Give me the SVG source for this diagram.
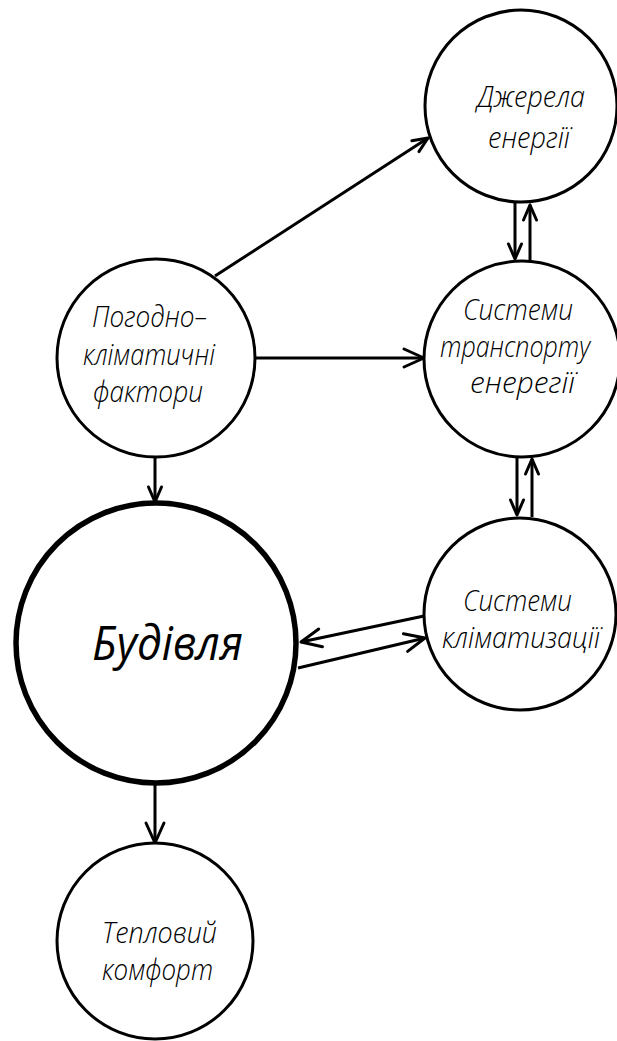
<svg xmlns="http://www.w3.org/2000/svg" width="617" height="1041" viewBox="0 0 617 1041">
<style>
.node{fill:#fff;stroke:#000;stroke-width:3}
.main{fill:#fff;stroke:#000;stroke-width:5.5}
.lbl{font-family:"Open Sans","Liberation Sans",sans-serif;font-style:italic;font-weight:300;font-size:29px;fill:#000}
.big{font-size:48px;font-weight:400}
.edge{stroke:#000;stroke-width:3;fill:none}
</style>
<defs>
<marker id="ab" markerUnits="userSpaceOnUse" viewBox="-24 -12 28 24" refX="0" refY="0" markerWidth="28" markerHeight="24" orient="auto">
<path d="M-20,-9 L0,0 L-20,9" fill="none" stroke="#000" stroke-width="3" stroke-linecap="round" stroke-linejoin="round"/>
</marker>
<marker id="as" markerUnits="userSpaceOnUse" viewBox="-20 -10 24 20" refX="0" refY="0" markerWidth="24" markerHeight="20" orient="auto">
<path d="M-15,-6.5 L0,0 L-15,6.5" fill="none" stroke="#000" stroke-width="3" stroke-linecap="round" stroke-linejoin="round"/>
</marker>
</defs>
<rect width="617" height="1041" fill="#fff"/>
<g id="connectors">
<line class="edge" x1="215" y1="276" x2="428" y2="138" marker-end="url(#as)"/>
<line class="edge" x1="255" y1="358" x2="424" y2="358" marker-end="url(#ab)"/>
<line class="edge" x1="155" y1="457" x2="155" y2="502" marker-end="url(#as)"/>
<line class="edge" x1="155" y1="784" x2="155" y2="843" marker-end="url(#ab)"/>
<line class="edge" x1="515" y1="203" x2="515" y2="259" marker-end="url(#as)"/>
<line class="edge" x1="530" y1="261" x2="530" y2="205" marker-end="url(#as)"/>
<line class="edge" x1="517" y1="457" x2="517" y2="515" marker-end="url(#as)"/>
<line class="edge" x1="532" y1="517" x2="532" y2="459" marker-end="url(#as)"/>
<line class="edge" x1="424" y1="616" x2="301" y2="642" marker-end="url(#ab)"/>
<line class="edge" x1="298" y1="668" x2="425" y2="638" marker-end="url(#ab)"/>
</g>
<g id="node-dzherela">
<circle class="node" cx="521" cy="106" r="96"/>
<text class="lbl" x="477" y="107" textLength="108" lengthAdjust="spacingAndGlyphs">Джерела</text>
<text class="lbl" x="488" y="148" textLength="82" lengthAdjust="spacingAndGlyphs">енергії</text>
</g>
<g id="node-pogodno">
<circle class="node" cx="156" cy="358" r="99"/>
<text class="lbl" x="92" y="327" textLength="115" lengthAdjust="spacingAndGlyphs">Погодно–</text>
<text class="lbl" x="83" y="365" textLength="132" lengthAdjust="spacingAndGlyphs">кліматичні</text>
<text class="lbl" x="93" y="402" textLength="110" lengthAdjust="spacingAndGlyphs">фактори</text>
</g>
<g id="node-transport">
<circle class="node" cx="522" cy="359" r="98"/>
<text class="lbl" x="463" y="320" textLength="110" lengthAdjust="spacingAndGlyphs">Системи</text>
<text class="lbl" x="440" y="357" textLength="150" lengthAdjust="spacingAndGlyphs">транспорту</text>
<text class="lbl" x="470" y="393" textLength="105" lengthAdjust="spacingAndGlyphs">енерегії</text>
</g>
<g id="node-klimat">
<circle class="node" cx="520" cy="614" r="96"/>
<text class="lbl" x="463" y="611" textLength="109" lengthAdjust="spacingAndGlyphs">Системи</text>
<text class="lbl" x="442" y="648" textLength="158" lengthAdjust="spacingAndGlyphs">кліматизації</text>
</g>
<g id="node-budivlia">
<circle class="main" cx="156" cy="643" r="140"/>
<text class="lbl big" x="92" y="660" textLength="151" lengthAdjust="spacingAndGlyphs">Будівля</text>
</g>
<g id="node-komfort">
<circle class="node" cx="155" cy="941" r="98"/>
<text class="lbl" x="102" y="943" textLength="115" lengthAdjust="spacingAndGlyphs">Тепловий</text>
<text class="lbl" x="102" y="980" textLength="111" lengthAdjust="spacingAndGlyphs">комфорт</text>
</g>
</svg>
